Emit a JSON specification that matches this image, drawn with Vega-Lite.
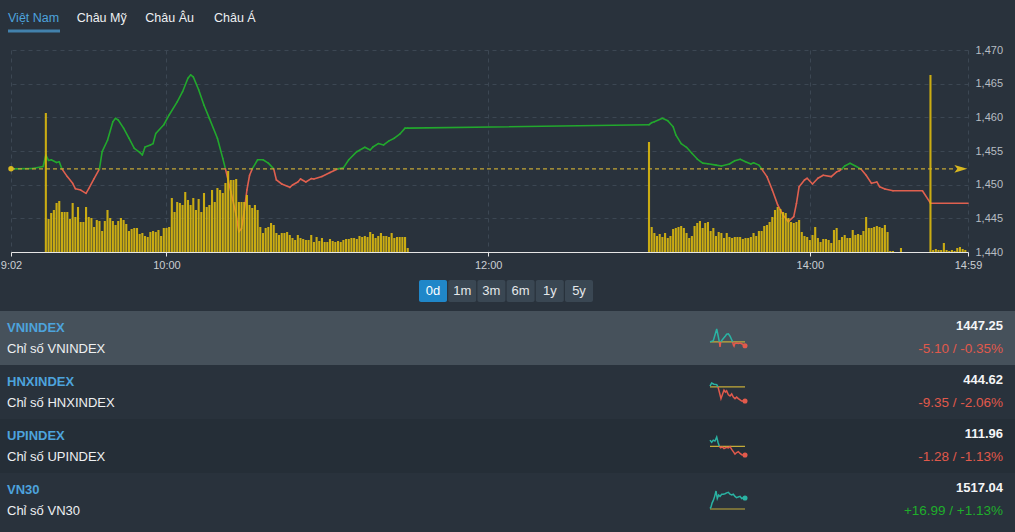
{
"$schema": "https://vega.github.io/schema/vega-lite/v6.json",
"background": "#29323c",
"padding": 0,
"spacing": 0,
"config": {"view": {"stroke": null}, "font": "Liberation Sans", "axis": {"labelFont": "Liberation Sans"}},
"datasets": {
"vn": [
{"t":"09:02","v":1452.35},{"t":"09:10","v":1452.4},{"t":"09:14","v":1452.7},{"t":"09:15","v":1454.4},{"t":"09:16","v":1453.6},{"t":"09:17","v":1453.7},{"t":"09:19","v":1453.3},{"t":"09:20","v":1453.4},{"t":"09:21","v":1452.35},{"t":"09:23","v":1451.2},{"t":"09:25","v":1450.2},{"t":"09:26","v":1449.4},{"t":"09:28","v":1449.2},{"t":"09:30","v":1448.7},{"t":"09:31","v":1449.4},{"t":"09:33","v":1450.9},{"t":"09:35","v":1452.35},{"t":"09:36","v":1454.9},{"t":"09:38","v":1456.6},{"t":"09:40","v":1459.35},{"t":"09:41","v":1459.85},{"t":"09:42","v":1459.6},{"t":"09:44","v":1458.4},{"t":"09:46","v":1456.9},{"t":"09:48","v":1455.4},{"t":"09:50","v":1454.8},{"t":"09:51","v":1454.4},{"t":"09:52","v":1455.6},{"t":"09:54","v":1455.9},{"t":"09:55","v":1456.1},{"t":"09:56","v":1457.6},{"t":"09:59","v":1458.9},{"t":"10:01","v":1460.35},{"t":"10:04","v":1462.3},{"t":"10:06","v":1463.8},{"t":"10:08","v":1465.8},{"t":"10:09","v":1466.3},{"t":"10:10","v":1466.0},{"t":"10:12","v":1464.1},{"t":"10:14","v":1461.8},{"t":"10:16","v":1459.85},{"t":"10:19","v":1456.9},{"t":"10:21","v":1453.9},{"t":"10:22","v":1452.35},{"t":"10:24","v":1448.96},{"t":"10:26","v":1445.5},{"t":"10:27","v":1443.0},{"t":"10:28","v":1443.5},{"t":"10:29","v":1446.0},{"t":"10:30","v":1449.2},{"t":"10:31","v":1451.4},{"t":"10:32","v":1452.35},{"t":"10:34","v":1453.7},{"t":"10:36","v":1453.7},{"t":"10:38","v":1453.2},{"t":"10:40","v":1452.35},{"t":"10:41","v":1450.7},{"t":"10:43","v":1450.1},{"t":"10:46","v":1449.6},{"t":"10:47","v":1449.95},{"t":"10:49","v":1450.4},{"t":"10:50","v":1450.85},{"t":"10:52","v":1450.4},{"t":"10:54","v":1450.9},{"t":"10:55","v":1450.85},{"t":"10:58","v":1451.2},{"t":"11:01","v":1451.8},{"t":"11:04","v":1452.35},{"t":"11:06","v":1452.5},{"t":"11:08","v":1453.7},{"t":"11:11","v":1454.9},{"t":"11:14","v":1455.55},{"t":"11:16","v":1455.15},{"t":"11:17","v":1455.6},{"t":"11:19","v":1456.1},{"t":"11:21","v":1455.9},{"t":"11:23","v":1456.5},{"t":"11:25","v":1456.9},{"t":"11:27","v":1457.5},{"t":"11:29","v":1458.4},{"t":"11:30","v":1458.4},{"t":"13:00","v":1458.9},{"t":"13:01","v":1459.2},{"t":"13:02","v":1459.35},{"t":"13:05","v":1459.85},{"t":"13:07","v":1459.5},{"t":"13:09","v":1458.6},{"t":"13:10","v":1457.4},{"t":"13:12","v":1456.1},{"t":"13:14","v":1455.55},{"t":"13:16","v":1454.66},{"t":"13:18","v":1453.8},{"t":"13:20","v":1453.2},{"t":"13:22","v":1453.1},{"t":"13:25","v":1452.9},{"t":"13:27","v":1452.77},{"t":"13:30","v":1453.07},{"t":"13:32","v":1453.56},{"t":"13:34","v":1453.77},{"t":"13:36","v":1453.4},{"t":"13:38","v":1453.07},{"t":"13:39","v":1453.26},{"t":"13:41","v":1452.9},{"t":"13:42","v":1452.35},{"t":"13:44","v":1451.2},{"t":"13:46","v":1449.2},{"t":"13:48","v":1447.0},{"t":"13:50","v":1445.5},{"t":"13:52","v":1444.5},{"t":"13:54","v":1445.25},{"t":"13:55","v":1447.2},{"t":"13:56","v":1449.7},{"t":"13:58","v":1450.7},{"t":"13:59","v":1450.95},{"t":"14:01","v":1450.1},{"t":"14:03","v":1450.95},{"t":"14:05","v":1451.4},{"t":"14:08","v":1451.2},{"t":"14:10","v":1451.9},{"t":"14:11","v":1452.07},{"t":"14:12","v":1452.35},{"t":"14:13","v":1452.77},{"t":"14:15","v":1453.17},{"t":"14:17","v":1452.77},{"t":"14:19","v":1452.35},{"t":"14:21","v":1451.4},{"t":"14:23","v":1450.2},{"t":"14:25","v":1450.4},{"t":"14:26","v":1449.7},{"t":"14:28","v":1449.36},{"t":"14:31","v":1449.1},{"t":"14:42","v":1449.1},{"t":"14:45","v":1447.25},{"t":"14:59","v":1447.25}
],
"vol": [
{"t":"09:15","q":13.9},{"t":"09:16","q":3.3},{"t":"09:17","q":3.9},{"t":"09:18","q":4.2},{"t":"09:19","q":4.9},{"t":"09:20","q":5.1},{"t":"09:21","q":4.0},{"t":"09:22","q":4.0},{"t":"09:23","q":4.0},{"t":"09:24","q":3.3},{"t":"09:25","q":4.9},{"t":"09:26","q":3.5},{"t":"09:27","q":4.5},{"t":"09:28","q":3.0},{"t":"09:29","q":3.0},{"t":"09:30","q":4.5},{"t":"09:31","q":3.5},{"t":"09:32","q":3.4},{"t":"09:33","q":2.5},{"t":"09:34","q":3.2},{"t":"09:35","q":3.1},{"t":"09:36","q":2.1},{"t":"09:37","q":3.1},{"t":"09:38","q":4.2},{"t":"09:39","q":3.4},{"t":"09:40","q":3.1},{"t":"09:41","q":2.7},{"t":"09:42","q":3.1},{"t":"09:43","q":3.4},{"t":"09:44","q":3.2},{"t":"09:45","q":2.8},{"t":"09:46","q":2.1},{"t":"09:47","q":2.3},{"t":"09:48","q":2.4},{"t":"09:49","q":2.4},{"t":"09:50","q":1.8},{"t":"09:51","q":1.9},{"t":"09:52","q":1.6},{"t":"09:53","q":1.5},{"t":"09:54","q":2.0},{"t":"09:55","q":2.1},{"t":"09:56","q":2.0},{"t":"09:57","q":2.2},{"t":"09:58","q":1.6},{"t":"09:59","q":2.4},{"t":"10:00","q":2.4},{"t":"10:01","q":2.5},{"t":"10:02","q":5.4},{"t":"10:03","q":4.0},{"t":"10:04","q":5.0},{"t":"10:05","q":4.9},{"t":"10:06","q":4.7},{"t":"10:07","q":6.0},{"t":"10:08","q":5.2},{"t":"10:09","q":4.7},{"t":"10:10","q":5.4},{"t":"10:11","q":4.2},{"t":"10:12","q":5.3},{"t":"10:13","q":4.0},{"t":"10:14","q":5.9},{"t":"10:15","q":4.5},{"t":"10:16","q":4.7},{"t":"10:17","q":6.2},{"t":"10:18","q":5.0},{"t":"10:19","q":6.4},{"t":"10:20","q":6.2},{"t":"10:21","q":5.9},{"t":"10:22","q":6.9},{"t":"10:23","q":8.1},{"t":"10:24","q":7.2},{"t":"10:25","q":7.2},{"t":"10:26","q":7.3},{"t":"10:27","q":5.0},{"t":"10:28","q":5.0},{"t":"10:29","q":5.0},{"t":"10:30","q":5.7},{"t":"10:31","q":4.7},{"t":"10:32","q":4.4},{"t":"10:33","q":4.7},{"t":"10:34","q":4.2},{"t":"10:35","q":2.5},{"t":"10:36","q":1.9},{"t":"10:37","q":2.4},{"t":"10:38","q":2.5},{"t":"10:39","q":2.9},{"t":"10:40","q":2.7},{"t":"10:41","q":1.9},{"t":"10:42","q":1.7},{"t":"10:43","q":1.9},{"t":"10:44","q":1.9},{"t":"10:45","q":2.0},{"t":"10:46","q":1.7},{"t":"10:47","q":1.4},{"t":"10:48","q":1.2},{"t":"10:49","q":1.7},{"t":"10:50","q":1.4},{"t":"10:51","q":1.3},{"t":"10:52","q":1.2},{"t":"10:53","q":1.2},{"t":"10:54","q":1.7},{"t":"10:55","q":1.0},{"t":"10:56","q":1.5},{"t":"10:57","q":1.1},{"t":"10:58","q":1.4},{"t":"10:59","q":1.0},{"t":"11:00","q":1.0},{"t":"11:01","q":1.3},{"t":"11:02","q":1.1},{"t":"11:03","q":1.0},{"t":"11:04","q":1.1},{"t":"11:05","q":1.0},{"t":"11:06","q":1.2},{"t":"11:07","q":1.3},{"t":"11:08","q":1.3},{"t":"11:09","q":1.4},{"t":"11:10","q":1.4},{"t":"11:11","q":1.3},{"t":"11:12","q":1.6},{"t":"11:13","q":1.5},{"t":"11:14","q":1.6},{"t":"11:15","q":1.5},{"t":"11:16","q":2.0},{"t":"11:17","q":1.8},{"t":"11:18","q":1.4},{"t":"11:19","q":1.6},{"t":"11:20","q":1.9},{"t":"11:21","q":1.6},{"t":"11:22","q":1.6},{"t":"11:23","q":1.5},{"t":"11:24","q":1.9},{"t":"11:25","q":1.4},{"t":"11:26","q":1.5},{"t":"11:27","q":1.5},{"t":"11:28","q":1.5},{"t":"11:29","q":1.5},{"t":"11:30","q":0.4},
{"t":"13:00","q":11.0},{"t":"13:01","q":2.5},{"t":"13:02","q":1.9},{"t":"13:03","q":1.6},{"t":"13:04","q":1.8},{"t":"13:05","q":1.5},{"t":"13:06","q":1.9},{"t":"13:07","q":1.4},{"t":"13:08","q":1.6},{"t":"13:09","q":2.3},{"t":"13:10","q":2.4},{"t":"13:11","q":2.5},{"t":"13:12","q":2.6},{"t":"13:13","q":2.4},{"t":"13:14","q":1.9},{"t":"13:15","q":1.4},{"t":"13:16","q":1.6},{"t":"13:17","q":2.6},{"t":"13:18","q":2.9},{"t":"13:19","q":3.1},{"t":"13:20","q":2.4},{"t":"13:21","q":2.9},{"t":"13:22","q":3.0},{"t":"13:23","q":2.1},{"t":"13:24","q":2.4},{"t":"13:25","q":1.6},{"t":"13:26","q":2.0},{"t":"13:27","q":1.9},{"t":"13:28","q":1.4},{"t":"13:29","q":1.9},{"t":"13:30","q":1.5},{"t":"13:31","q":1.4},{"t":"13:32","q":1.5},{"t":"13:33","q":1.5},{"t":"13:34","q":1.5},{"t":"13:35","q":1.3},{"t":"13:36","q":1.4},{"t":"13:37","q":1.4},{"t":"13:38","q":1.5},{"t":"13:39","q":1.9},{"t":"13:40","q":1.6},{"t":"13:41","q":2.1},{"t":"13:42","q":2.1},{"t":"13:43","q":2.6},{"t":"13:44","q":2.7},{"t":"13:45","q":3.0},{"t":"13:46","q":3.5},{"t":"13:47","q":4.2},{"t":"13:48","q":4.5},{"t":"13:49","q":4.3},{"t":"13:50","q":4.0},{"t":"13:51","q":3.9},{"t":"13:52","q":3.4},{"t":"13:53","q":3.0},{"t":"13:54","q":2.9},{"t":"13:55","q":3.0},{"t":"13:56","q":3.2},{"t":"13:57","q":2.0},{"t":"13:58","q":1.6},{"t":"13:59","q":1.5},{"t":"14:00","q":1.2},{"t":"14:01","q":1.7},{"t":"14:02","q":2.5},{"t":"14:03","q":1.4},{"t":"14:04","q":1.0},{"t":"14:05","q":1.3},{"t":"14:06","q":1.3},{"t":"14:07","q":1.2},{"t":"14:08","q":0.9},{"t":"14:09","q":2.2},{"t":"14:10","q":2.4},{"t":"14:11","q":1.2},{"t":"14:12","q":1.5},{"t":"14:13","q":1.7},{"t":"14:14","q":1.4},{"t":"14:15","q":1.4},{"t":"14:16","q":2.2},{"t":"14:17","q":1.7},{"t":"14:18","q":1.8},{"t":"14:19","q":1.7},{"t":"14:20","q":2.1},{"t":"14:21","q":3.5},{"t":"14:22","q":2.4},{"t":"14:23","q":2.4},{"t":"14:24","q":2.5},{"t":"14:25","q":2.6},{"t":"14:26","q":2.5},{"t":"14:27","q":2.4},{"t":"14:28","q":2.7},{"t":"14:29","q":2.0},{"t":"14:30","q":0.1},{"t":"14:31","q":0.1},{"t":"14:34","q":0.4},{"t":"14:45","q":17.7},{"t":"14:46","q":0.2},{"t":"14:47","q":0.3},{"t":"14:48","q":0.2},{"t":"14:49","q":0.2},{"t":"14:50","q":0.9},{"t":"14:51","q":0.2},{"t":"14:52","q":0.1},{"t":"14:53","q":0.2},{"t":"14:54","q":0.1},{"t":"14:55","q":0.4},{"t":"14:56","q":0.5},{"t":"14:57","q":0.3},{"t":"14:58","q":0.2}
],
"idx": [
{"idx":"VNINDEX","name":"Chỉ số VNINDEX","val":1447.25,"chg":-5.10,"pct":-0.35,"ref":1452.35},
{"idx":"HNXINDEX","name":"Chỉ số HNXINDEX","val":444.62,"chg":-9.35,"pct":-2.06,"ref":453.97},
{"idx":"UPINDEX","name":"Chỉ số UPINDEX","val":111.96,"chg":-1.28,"pct":-1.13,"ref":113.24},
{"idx":"VN30","name":"Chỉ số VN30","val":1517.04,"chg":16.99,"pct":1.13,"ref":1500.05}
],
"spark": [
{"idx":"VNINDEX","t":"09:00","v":1452.35},{"idx":"VNINDEX","t":"09:34","v":1453.6},{"idx":"VNINDEX","t":"09:51","v":1459.2},{"idx":"VNINDEX","t":"10:09","v":1465.2},{"idx":"VNINDEX","t":"10:22","v":1459.2},{"idx":"VNINDEX","t":"10:36","v":1452.35},{"idx":"VNINDEX","t":"10:43","v":1447.2},{"idx":"VNINDEX","t":"10:50","v":1452.35},{"idx":"VNINDEX","t":"11:03","v":1454.0},{"idx":"VNINDEX","t":"11:17","v":1455.6},{"idx":"VNINDEX","t":"11:34","v":1457.6},{"idx":"VNINDEX","t":"11:51","v":1460.0},{"idx":"VNINDEX","t":"12:09","v":1460.4},{"idx":"VNINDEX","t":"12:26","v":1458.0},{"idx":"VNINDEX","t":"12:43","v":1454.4},{"idx":"VNINDEX","t":"12:53","v":1452.35},{"idx":"VNINDEX","t":"13:00","v":1449.2},{"idx":"VNINDEX","t":"13:07","v":1448.0},{"idx":"VNINDEX","t":"13:17","v":1451.0},{"idx":"VNINDEX","t":"13:34","v":1451.2},{"idx":"VNINDEX","t":"13:51","v":1450.8},{"idx":"VNINDEX","t":"14:09","v":1451.2},{"idx":"VNINDEX","t":"14:26","v":1450.4},{"idx":"VNINDEX","t":"14:43","v":1449.6},{"idx":"VNINDEX","t":"15:00","v":1448.4},
{"idx":"HNXINDEX","t":"09:00","v":454.57},{"idx":"HNXINDEX","t":"09:17","v":456.97},{"idx":"HNXINDEX","t":"09:41","v":456.07},{"idx":"HNXINDEX","t":"10:09","v":455.77},{"idx":"HNXINDEX","t":"10:22","v":453.97},{"idx":"HNXINDEX","t":"10:36","v":450.07},{"idx":"HNXINDEX","t":"10:53","v":444.97},{"idx":"HNXINDEX","t":"11:07","v":447.97},{"idx":"HNXINDEX","t":"11:24","v":451.57},{"idx":"HNXINDEX","t":"11:38","v":450.07},{"idx":"HNXINDEX","t":"11:51","v":450.97},{"idx":"HNXINDEX","t":"12:09","v":447.97},{"idx":"HNXINDEX","t":"12:26","v":447.07},{"idx":"HNXINDEX","t":"12:43","v":448.57},{"idx":"HNXINDEX","t":"13:00","v":446.17},{"idx":"HNXINDEX","t":"13:17","v":444.97},{"idx":"HNXINDEX","t":"13:34","v":446.17},{"idx":"HNXINDEX","t":"13:51","v":444.97},{"idx":"HNXINDEX","t":"14:09","v":444.07},{"idx":"HNXINDEX","t":"14:26","v":443.17},{"idx":"HNXINDEX","t":"14:43","v":443.17},{"idx":"HNXINDEX","t":"15:00","v":443.17},
{"idx":"UPINDEX","t":"09:00","v":114.44},{"idx":"UPINDEX","t":"09:17","v":114.02},{"idx":"UPINDEX","t":"09:34","v":114.44},{"idx":"UPINDEX","t":"09:51","v":114.26},{"idx":"UPINDEX","t":"10:09","v":115.04},{"idx":"UPINDEX","t":"10:22","v":114.02},{"idx":"UPINDEX","t":"10:36","v":113.24},{"idx":"UPINDEX","t":"10:50","v":112.94},{"idx":"UPINDEX","t":"11:07","v":113.12},{"idx":"UPINDEX","t":"11:24","v":112.82},{"idx":"UPINDEX","t":"11:51","v":113.06},{"idx":"UPINDEX","t":"12:09","v":112.94},{"idx":"UPINDEX","t":"12:26","v":113.18},{"idx":"UPINDEX","t":"12:43","v":112.64},{"idx":"UPINDEX","t":"13:00","v":112.22},{"idx":"UPINDEX","t":"13:17","v":111.74},{"idx":"UPINDEX","t":"13:34","v":112.04},{"idx":"UPINDEX","t":"13:51","v":112.22},{"idx":"UPINDEX","t":"14:09","v":111.86},{"idx":"UPINDEX","t":"14:26","v":111.62},{"idx":"UPINDEX","t":"14:43","v":111.56},{"idx":"UPINDEX","t":"15:00","v":111.56},
{"idx":"VN30","t":"09:00","v":1501.05},{"idx":"VN30","t":"09:10","v":1503.55},{"idx":"VN30","t":"09:21","v":1511.05},{"idx":"VN30","t":"09:34","v":1516.05},{"idx":"VN30","t":"09:48","v":1523.55},{"idx":"VN30","t":"10:02","v":1533.55},{"idx":"VN30","t":"10:15","v":1519.55},{"idx":"VN30","t":"10:29","v":1526.05},{"idx":"VN30","t":"10:43","v":1523.55},{"idx":"VN30","t":"11:00","v":1527.55},{"idx":"VN30","t":"11:17","v":1527.55},{"idx":"VN30","t":"11:34","v":1528.55},{"idx":"VN30","t":"11:51","v":1530.05},{"idx":"VN30","t":"12:09","v":1531.05},{"idx":"VN30","t":"12:26","v":1527.55},{"idx":"VN30","t":"12:43","v":1526.05},{"idx":"VN30","t":"13:00","v":1527.55},{"idx":"VN30","t":"13:17","v":1523.55},{"idx":"VN30","t":"13:34","v":1521.05},{"idx":"VN30","t":"13:51","v":1522.55},{"idx":"VN30","t":"14:09","v":1523.55},{"idx":"VN30","t":"14:26","v":1519.55},{"idx":"VN30","t":"14:43","v":1521.05},{"idx":"VN30","t":"15:00","v":1520.55}
]
},
"vconcat": [
{
"hconcat": [
{"width": 8, "height": 44, "data": {"values":[{}]}, "mark": {"type":"rect","opacity":0}, "encoding": {}},
{
"width": 206, "height": 44,
"data": {"values": [{"tab":"Việt Nam","on":1},{"tab":"Châu Mỹ","on":0},{"tab":"Châu Âu","on":0},{"tab":"Châu Á","on":0}]},
"encoding": {"x": {"field":"tab","type":"nominal","sort":null,"axis":null,"scale":{"type":"point","padding":0}}},
"layer": [
{"mark": {"type":"text","align":"left","baseline":"middle","dy":-4,"fontSize":12.5},
 "encoding": {"text":{"field":"tab"},"color":{"condition":{"test":"datum.on === 1","value":"#4da3dc"},"value":"#eef0f2"}}},
{"transform":[{"filter":"datum.on === 1"}],
 "mark": {"type":"tick","orient":"horizontal","size":52,"thickness":3,"color":"#4da3dc","xOffset":26,"yOffset":9}}
]
}
],
"spacing": 0, "bounds": "flush"
},
{
"hconcat": [
{"width": 11, "height": 230, "data": {"values":[{}]}, "mark": {"type":"rect","opacity":0}, "encoding": {}},
{
"width": 957, "height": 202,
"layer": [
{"data": {"name":"vn","format":{"parse":{"t":"date:'%H:%M'"}}},
 "transform": [
   {"window":[{"op":"lead","field":"t","as":"t2"},{"op":"lead","field":"v","as":"v2"}],"sort":[{"field":"t","order":"ascending"}]},
   {"filter":"datum.t2 != null"}
 ],
 "mark": {"type":"rule","strokeWidth":1.6,"strokeCap":"round"},
 "encoding": {
  "x": {"field":"t","type":"temporal","scale":{"padding":0,"domain":[{"year":1900,"month":1,"date":1,"hours":9,"minutes":2},{"year":1900,"month":1,"date":1,"hours":14,"minutes":59}]},
        "axis":{"values":[{"year":1900,"month":1,"date":1,"hours":9,"minutes":2},{"year":1900,"month":1,"date":1,"hours":10,"minutes":0},{"year":1900,"month":1,"date":1,"hours":12,"minutes":0},{"year":1900,"month":1,"date":1,"hours":14,"minutes":0},{"year":1900,"month":1,"date":1,"hours":14,"minutes":59}],
                "format":"%-H:%M","title":null,"labelColor":"#c9ced3","labelFontSize":11,"labelPadding":3,"domainColor":"#e6e6e6","tickColor":"#e6e6e6","tickSize":4,"grid":true,"gridColor":"#3c4753","gridDash":[4,4],"labelFlush":false}},
  "x2": {"field":"t2"},
  "y": {"field":"v","type":"quantitative","scale":{"domain":[1440,1470],"nice":false,"zero":false},
        "axis":{"orient":"right","values":[1440,1445,1450,1455,1460,1465,1470],"format":",","title":null,"labelColor":"#b7bdc3","labelFontSize":11,"labelPadding":7,"labelOverlap":false,"domain":false,"ticks":false,"grid":true,"gridColor":"#3c4753","gridDash":[4,4]}},
  "y2": {"field":"v2"},
  "color": {"condition":{"test":"(datum.v + datum.v2) / 2 >= 1452.35","value":"#22a82d"},"value":"#e0604f"}
 }},
{"data": {"values":[{}]},
 "mark": {"type":"rule","color":"#c2a534","strokeWidth":1.2,"strokeDash":[4,3]},
 "encoding": {
  "x": {"datum":{"year":1900,"month":1,"date":1,"hours":9,"minutes":2},"type":"temporal"},
  "x2": {"datum":{"year":1900,"month":1,"date":1,"hours":14,"minutes":54}},
  "y": {"datum":1452.35,"type":"quantitative","scale":{"domain":[1440,1470],"nice":false,"zero":false},"axis":null}
 }},
{"data": {"values":[{}]},
 "mark": {"type":"point","shape":"circle","filled":true,"size":30,"color":"#d8b820","opacity":1},
 "encoding": {
  "x": {"datum":{"year":1900,"month":1,"date":1,"hours":9,"minutes":2},"type":"temporal"},
  "y": {"datum":1452.35,"type":"quantitative","scale":{"domain":[1440,1470],"nice":false,"zero":false},"axis":null}
 }},
{"data": {"values":[{}]},
 "mark": {"type":"point","shape":"M-1,-0.6L1,0L-1,0.6L-0.55,0Z","filled":true,"size":169,"color":"#d8b820","opacity":1},
 "encoding": {
  "x": {"datum":{"year":1900,"month":1,"date":1,"hours":14,"minutes":56,"seconds":20},"type":"temporal"},
  "y": {"datum":1452.35,"type":"quantitative","scale":{"domain":[1440,1470],"nice":false,"zero":false},"axis":null}
 }},
{"data": {"name":"vol","format":{"parse":{"t":"date:'%H:%M'"}}},
 "mark": {"type":"bar","color":"#dcb90e","size":2.1,"opacity":0.9},
 "encoding": {
  "x": {"field":"t","type":"temporal"},
  "y": {"field":"q","type":"quantitative","scale":{"domain":[0,20.2]},"axis":null}
 }}
],
"resolve": {"scale": {"y": "independent"}}
}
],
"spacing": 0, "bounds": "flush"
},
{
"hconcat": [
{"width": 419, "height": 31, "data": {"values":[{}]}, "mark": {"type":"rect","opacity":0}, "encoding": {}},
{
"width": 174, "height": 22,
"data": {"values": [{"b":"0d","on":1},{"b":"1m","on":0},{"b":"3m","on":0},{"b":"6m","on":0},{"b":"1y","on":0},{"b":"5y","on":0}]},
"encoding": {"x": {"field":"b","type":"nominal","sort":null,"axis":null,"scale":{"paddingInner":0.04,"paddingOuter":0}}},
"layer": [
{"mark": {"type":"rect","cornerRadius":2},
 "encoding": {"color":{"condition":{"test":"datum.on === 1","value":"#2087c9"},"value":"#3a4753"}}},
{"mark": {"type":"text","fontSize":13,"baseline":"middle"},
 "encoding": {"text":{"field":"b"},"color":{"condition":{"test":"datum.on === 1","value":"#ffffff"},"value":"#e4e7ea"}}}
]
}
],
"spacing": 0, "bounds": "flush"
},
{
"hconcat": [
{
"width": 705, "height": 216,
"data": {"name":"idx"},
"encoding": {"y": {"field":"idx","type":"nominal","sort":null,"axis":null,"scale":{"paddingInner":0,"paddingOuter":0}}},
"layer": [
{"mark": "rect",
 "encoding": {"color":{"field":"idx","type":"nominal","legend":null,"scale":{"domain":["VNINDEX","HNXINDEX","UPINDEX","VN30"],"range":["#46515b","#29323c","#252e37","#29323c"]}}}},
{"mark": {"type":"text","align":"left","baseline":"middle","dx":7,"dy":-10,"fontSize":13,"fontWeight":"bold","color":"#4da3dc"},
 "encoding": {"x":{"value":0},"text":{"field":"idx"}}},
{"mark": {"type":"text","align":"left","baseline":"middle","dx":7,"dy":11,"fontSize":13,"color":"#eef0f2"},
 "encoding": {"x":{"value":0},"text":{"field":"name"}}}
]
},
{
"data": {"name":"spark","format":{"parse":{"t":"date:'%H:%M'"}}},
"transform": [{"lookup":"idx","from":{"data":{"name":"idx"},"key":"idx","fields":["ref"]}}],
"facet": {"row": {"field":"idx","type":"nominal","sort":["VNINDEX","HNXINDEX","UPINDEX","VN30"],"header":null}},
"spacing": 0,
"spec": {
"width": 45, "height": 54,
"layer": [
{"transform": [{"aggregate":[{"op":"count","as":"n"}],"groupby":["idx"]}],
 "mark": "rect",
 "encoding": {"color":{"field":"idx","type":"nominal","legend":null,"scale":{"domain":["VNINDEX","HNXINDEX","UPINDEX","VN30"],"range":["#46515b","#29323c","#252e37","#29323c"]}}}},
{"transform": [{"aggregate":[{"op":"max","field":"ref","as":"ref"},{"op":"min","field":"t","as":"t0"},{"op":"max","field":"t","as":"t1"}],"groupby":["idx"]}],
 "mark": {"type":"rule","color":"#c4ab38","strokeWidth":1.2},
 "encoding": {
  "x": {"field":"t0","type":"temporal","axis":null},
  "x2": {"field":"t1"},
  "y":{"field":"ref","type":"quantitative","axis":null,"scale":{"zero":false,"nice":false,"padding":18}}}},
{"transform": [{"calculate":"datum.v >= datum.ref ? datum.v : null","as":"yv"}],
 "mark": {"type":"line","color":"#2ab3a3","strokeWidth":1.5},
 "encoding": {
  "x": {"field":"t","type":"temporal","axis":null,"scale":{"domain":[{"year":1900,"month":1,"date":1,"hours":8,"minutes":8,"seconds":34},{"year":1900,"month":1,"date":1,"hours":15,"minutes":51,"seconds":26}]}},
  "y": {"field":"yv","type":"quantitative","axis":null}
 }},
{"transform": [{"calculate":"datum.v <= datum.ref ? datum.v : null","as":"yv"}],
 "mark": {"type":"line","color":"#e25a4c","strokeWidth":1.5},
 "encoding": {
  "x": {"field":"t","type":"temporal","axis":null},
  "y": {"field":"yv","type":"quantitative","axis":null}
 }},
{"transform": [{"filter":"hours(datum.t) === 15"}],
 "mark": {"type":"circle","size":26,"opacity":1},
 "encoding": {
  "x": {"field":"t","type":"temporal","axis":null},
  "y": {"field":"v","type":"quantitative","axis":null},
  "color": {"condition":{"test":"datum.v >= datum.ref","value":"#2ab3a3"},"value":"#e25a4c"}
 }}
]
},
"resolve": {"scale": {"y": "independent"}}
},
{
"width": 265, "height": 216,
"data": {"name":"idx"},
"transform": [{"calculate":"replace(replace(format(datum.chg,'+.2f') + ' / ' + format(datum.pct,'+.2f') + '%', '−', '-'), '−', '-')","as":"lbl"}],
"encoding": {"y": {"field":"idx","type":"nominal","sort":null,"axis":null,"scale":{"paddingInner":0,"paddingOuter":0}}},
"layer": [
{"mark": "rect",
 "encoding": {"color":{"field":"idx","type":"nominal","legend":null,"scale":{"domain":["VNINDEX","HNXINDEX","UPINDEX","VN30"],"range":["#46515b","#29323c","#252e37","#29323c"]}}}},
{"mark": {"type":"text","align":"right","baseline":"middle","dx":-12,"dy":-12,"fontSize":13,"fontWeight":"bold","color":"#f4f5f6"},
 "encoding": {"x":{"value":"width"},"text":{"field":"val","type":"quantitative","format":".2f"}}},
{"mark": {"type":"text","align":"right","baseline":"middle","dx":-12,"dy":11,"fontSize":13.5},
 "encoding": {"x":{"value":"width"},"text":{"field":"lbl"},"color":{"condition":{"test":"datum.chg < 0","value":"#e0594b"},"value":"#1fae2b"}}}
]
}
],
"spacing": 0
},
{"width": 1015, "height": 5, "data": {"values":[{}]}, "mark": {"type":"rect","opacity":0}, "encoding": {}}
]
}
